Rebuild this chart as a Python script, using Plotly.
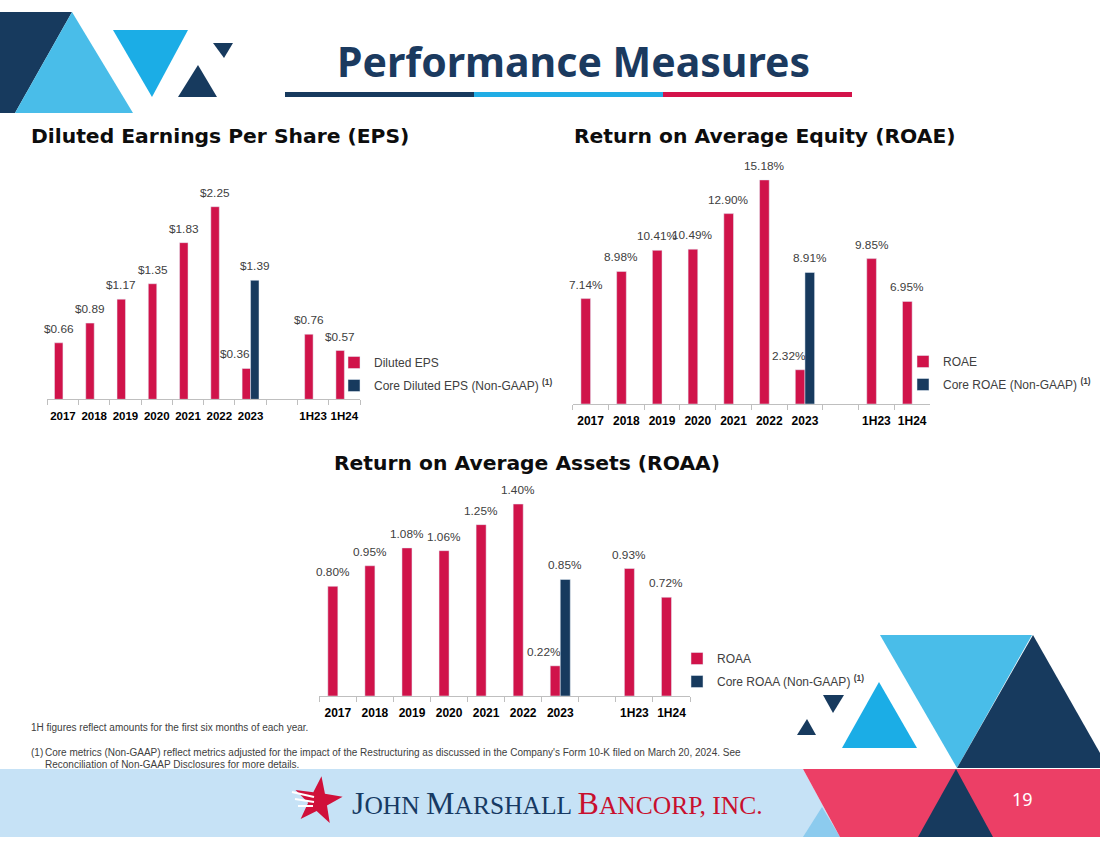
import math
import plotly.graph_objects as go

W, H = 1100, 849

# ---------------- data ----------------
categories = ["2017", "2018", "2019", "2020", "2021", "2022", "2023", " ", "1H23", "1H24"]
tick_labels = ["2017", "2018", "2019", "2020", "2021", "2022", "2023", "", "1H23", "1H24"]

eps_diluted = [0.66, 0.89, 1.17, 1.35, 1.83, 2.25, 0.36, None, 0.76, 0.57]
eps_core = [None, None, None, None, None, None, 1.39, None, None, None]

roae = [7.14, 8.98, 10.41, 10.49, 12.90, 15.18, 2.32, None, 9.85, 6.95]
roae_core = [None, None, None, None, None, None, 8.91, None, None, None]

roaa = [0.80, 0.95, 1.08, 1.06, 1.25, 1.40, 0.22, None, 0.93, 0.72]
roaa_core = [None, None, None, None, None, None, 0.85, None, None, None]

# ---------------- style ----------------
RED = "#d0134a"
NAVY = "#173a5e"
LBLUE = "#49bde9"
MBLUE = "#1badE6"
PINK = "#ec3f66"
BAND = "#c6e2f6"
GREY_TXT = "#404040"
AXIS_GREY = "#bfbfbf"
BARGAP = 0.46

def px_x(x):
    return x / W

def px_y(y):
    return 1 - y / H

charts = [
    dict(ax="", x0=47.3, x1=360.0, base=399.3, ppu=85.6, rmax=2.5,
         red=eps_diluted, blue=eps_core, fmt="${:.2f}",
         names=("Diluted EPS", "Core Diluted EPS (Non-GAAP) <sup><b>(1)</b></sup>"),
         legend="legend", leg_x=334, leg_top=348, tick_size=11.5, lab_size=11.8),
    dict(ax="2", x0=572.7, x1=930.0, base=404.0, ppu=14.76, rmax=16,
         red=roae, blue=roae_core, fmt="{:.2f}%",
         names=("ROAE", "Core ROAE (Non-GAAP) <sup><b>(1)</b></sup>"),
         legend="legend2", leg_x=903, leg_top=347, tick_size=12, lab_size=11.8),
    dict(ax="3", x0=319.3, x1=690.0, base=696.0, ppu=137.1, rmax=1.6,
         red=roaa, blue=roaa_core, fmt="{:.2f}%",
         names=("ROAA", "Core ROAA (Non-GAAP) <sup><b>(1)</b></sup>"),
         legend="legend3", leg_x=677, leg_top=644, tick_size=12, lab_size=11.8),
]

fig = go.Figure()
annotations = []
layout_axes = {}
n = len(categories)

for i, c in enumerate(charts):
    xa = "x" + c["ax"]
    ya = "y" + c["ax"]
    fig.add_trace(go.Bar(x=categories, y=c["red"], name=c["names"][0], marker_color=RED,
                         xaxis=xa, yaxis=ya, legend=c["legend"], legendgroup=f"r{i}",
                         hoverinfo="skip"))
    fig.add_trace(go.Bar(x=categories, y=c["blue"], name=c["names"][1], marker_color=NAVY,
                         xaxis=xa, yaxis=ya, legend=c["legend"], legendgroup=f"b{i}",
                         hoverinfo="skip"))
    top = c["base"] - c["rmax"] * c["ppu"]
    layout_axes["xaxis" + c["ax"]] = dict(
        domain=[px_x(c["x0"]), px_x(c["x1"])], anchor=ya, type="category",
        categoryorder="array", categoryarray=categories, range=[-0.5, n - 0.5],
        tickmode="array", tickvals=list(range(n)), ticktext=tick_labels, tickangle=0,
        tickson="boundaries", ticks="outside", ticklen=5, tickcolor=AXIS_GREY,
        ticklabelstandoff=6,
        showline=True, linecolor=AXIS_GREY, linewidth=1, showgrid=False,
        tickfont=dict(family="Liberation Sans", size=c["tick_size"], color="#000000",
                      weight="bold"),
        fixedrange=True)
    layout_axes["yaxis" + c["ax"]] = dict(
        domain=[px_y(c["base"]), px_y(top)], anchor=xa, range=[0, c["rmax"]],
        visible=False, fixedrange=True)
    layout_axes[c["legend"]] = dict(
        x=px_x(c["leg_x"]), y=px_y(c["leg_top"]), xanchor="left", yanchor="top",
        bgcolor="rgba(0,0,0,0)", tracegroupgap=4,
        font=dict(family="Liberation Sans", size=12, color=GREY_TXT))

    # data labels
    cat_w = (c["x1"] - c["x0"]) / n
    bar_w = cat_w * (1 - BARGAP) / 2
    for series, sgn in ((c["red"], -1), (c["blue"], 1)):
        for idx, (cat, v) in enumerate(zip(categories, series)):
            if v is None:
                continue
            shift = sgn * bar_w / 2
            if sgn < 0 and cat == "2023":
                shift -= 11
            annotations.append(dict(
                x=idx, y=v, xref=xa, yref=ya, text=c["fmt"].format(v), showarrow=False,
                xanchor="center", yanchor="bottom", xshift=shift, yshift=5,
                font=dict(family="Liberation Sans", size=c["lab_size"], color=GREY_TXT)))

# ---------------- texts ----------------
HEAD_FONT = dict(family="DejaVu Sans", size=20.3, color="#0d0d0d")

def text(x, y, s, font, xanchor="left"):
    annotations.append(dict(x=px_x(x), y=px_y(y), xref="paper", yref="paper", text=s,
                            showarrow=False, xanchor=xanchor, yanchor="middle", font=font))

text(573, 61, "<b>Performance Measures</b>", dict(family="Noto Sans", size=41, color="#1b3a5f"),
     xanchor="center")
text(29, 136, "<b>Diluted Earnings Per Share (EPS)</b>", HEAD_FONT)
text(572, 136, "<b>Return on Average Equity (ROAE)</b>", HEAD_FONT)
text(332, 463, "<b>Return on Average Assets (ROAA)</b>", HEAD_FONT)

FOOT_FONT = dict(family="Liberation Sans", size=10, color=GREY_TXT)
text(29, 727, "1H figures reflect amounts for the first six months of each year.", FOOT_FONT)
text(29, 752, "(1)", FOOT_FONT)
text(43, 752, "Core metrics (Non-GAAP) reflect metrics adjusted for the impact of the Restructuring "
              "as discussed in the Company's Form 10-K filed on March 20, 2024. See", FOOT_FONT)
text(43, 764, "Reconciliation of Non-GAAP Disclosures for more details.", FOOT_FONT)

BIG = "<span style='font-size:32px'>"
logo = (f"{BIG}J</span>OHN {BIG}M</span>ARSHALL "
        f"<span style='color:#c8102e'>{BIG}B</span>ANCORP, INC.</span>")
text(350, 803, logo, dict(family="Liberation Serif", size=25.5, color="#173a63"))
text(1022, 799, "19", dict(family="Noto Sans", size=18, color="#ffffff"), xanchor="center")

# ---------------- decorative shapes ----------------
def P(pts):
    return "M " + " L ".join(f"{px_x(x):.5f},{px_y(y):.5f}" for x, y in pts) + " Z"

shapes = []

def poly(pts, color, layer="below"):
    shapes.append(dict(type="path", path=P(pts), xref="paper", yref="paper",
                       fillcolor=color, line=dict(width=0), layer=layer))

# top-left triangles
poly([(0, 12), (72, 12), (15, 113), (0, 113)], NAVY)
poly([(72, 12), (15, 113), (133, 113)], LBLUE)
poly([(113, 30), (188, 30), (152, 97)], MBLUE)
poly([(213, 43), (233, 43), (224, 58)], NAVY)
poly([(198, 65), (178, 97), (217, 97)], NAVY)

# title underline
poly([(285, 92), (474, 92), (474, 97), (285, 97)], NAVY)
poly([(474, 92), (663, 92), (663, 97), (474, 97)], "#21ade5")
poly([(663, 92), (852, 92), (852, 97), (663, 97)], "#d3134a")

# footer band
poly([(0, 769), (803, 769), (840, 837), (0, 837)], BAND)
poly([(822, 807), (803, 837), (840, 837)], "#8ccbee")
poly([(803, 769), (1100, 769), (1100, 837), (840, 837)], PINK)
poly([(956, 769), (918, 837), (993, 837)], NAVY)

# bottom-right triangles
poly([(880, 635), (1032, 635), (957, 768)], LBLUE)
poly([(1033, 635), (957, 768), (1100, 768), (1100, 753)], NAVY)
poly([(879, 682), (842, 748), (917, 748)], MBLUE)
poly([(823, 695), (844, 695), (833, 713)], NAVY)
poly([(807, 719), (797, 735), (816, 735)], NAVY)

# logo star
cx, cy, R, r = 318, 801, 25, 10
star = []
for k in range(10):
    ang = math.radians(-90 + 36 * k + 8)
    rad = R if k % 2 == 0 else r
    star.append((cx + rad * math.cos(ang), cy + rad * math.sin(ang)))
poly(star, "#d0103a", layer="above")
for (a, b) in [((292, 792), (314, 797)), ((295, 799), (314, 802)), ((298, 806), (313, 806))]:
    shapes.append(dict(type="line", x0=px_x(a[0]), y0=px_y(a[1]), x1=px_x(b[0]), y1=px_y(b[1]),
                       xref="paper", yref="paper", line=dict(color="#ffffff", width=2),
                       layer="above"))

fig.update_layout(
    width=W, height=H, margin=dict(l=0, r=0, t=0, b=0),
    paper_bgcolor="#ffffff", plot_bgcolor="rgba(0,0,0,0)",
    barmode="group", bargap=BARGAP, bargroupgap=0,
    showlegend=True, annotations=annotations, shapes=shapes,
    hovermode=False, **layout_axes)

fig.write_html("out.html", config={"displayModeBar": False},
               post_script="document.body.style.margin='0';")
